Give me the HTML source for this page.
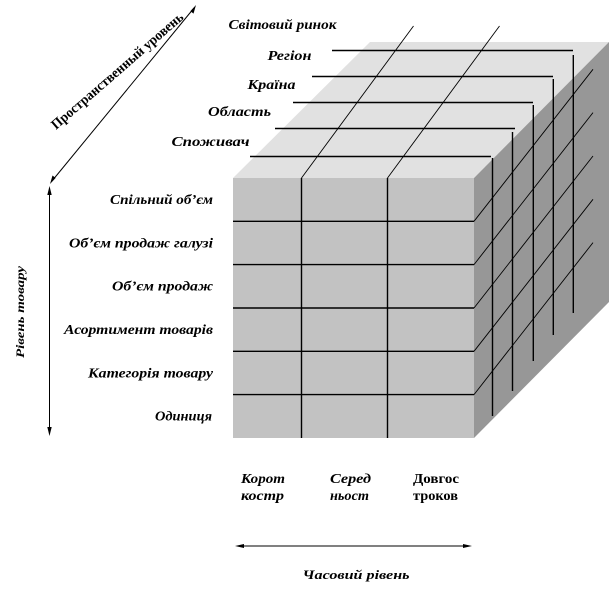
<!DOCTYPE html>
<html><head><meta charset="utf-8"><style>
html,body{margin:0;padding:0;background:#fff;}
svg{display:block;}
text{font-family:"Liberation Serif","DejaVu Serif",serif;font-weight:bold;fill:#000;}
.it{font-style:italic;}
</style></head><body>
<svg width="610" height="590" viewBox="0 0 610 590" xmlns="http://www.w3.org/2000/svg">
<!-- cube faces -->
<polygon points="233,178 370,42 609,42 474,178" fill="#e1e1e1"/>
<polygon points="474,178 609,42 609,302 474,438" fill="#979797"/>
<rect x="233" y="178" width="241" height="260" fill="#c2c2c2"/>

<g stroke="#000" stroke-width="1.4" fill="none">
<!-- front horizontal -->
<line x1="233" y1="221.3" x2="474" y2="221.3"/>
<line x1="233" y1="264.6" x2="474" y2="264.6"/>
<line x1="233" y1="308" x2="474" y2="308"/>
<line x1="233" y1="351.3" x2="474" y2="351.3"/>
<line x1="233" y1="394.6" x2="474" y2="394.6"/>
<!-- front verticals -->
<line x1="301.5" y1="178" x2="301.5" y2="438"/>
<line x1="387.5" y1="178" x2="387.5" y2="438"/>
<!-- top horizontals -->
<line x1="332" y1="50.5" x2="573" y2="50.5"/>
<line x1="312" y1="76.5" x2="553" y2="76.5"/>
<line x1="293" y1="102.5" x2="533" y2="102.5"/>
<line x1="275" y1="128.5" x2="515" y2="128.5"/>
<line x1="250" y1="156.5" x2="491" y2="156.5"/>
<!-- right verticals -->
<line x1="573.3" y1="55" x2="573.3" y2="313"/>
<line x1="553.3" y1="79" x2="553.3" y2="335"/>
<line x1="533.3" y1="105" x2="533.3" y2="361"/>
<line x1="512.5" y1="132" x2="512.5" y2="391"/>
<line x1="492.5" y1="158" x2="492.5" y2="416"/>
</g>
<g stroke="#000" stroke-width="0.9" fill="none">
<!-- top diagonals -->
<line x1="301.5" y1="178" x2="413.5" y2="26"/>
<line x1="387.5" y1="178" x2="499.5" y2="26"/>
<!-- right diagonals -->
<line x1="474" y1="221.3" x2="593" y2="69.3"/>
<line x1="474" y1="264.6" x2="593" y2="112.6"/>
<line x1="474" y1="308" x2="593" y2="156"/>
<line x1="474" y1="351.3" x2="593" y2="199.3"/>
<line x1="474" y1="394.6" x2="593" y2="242.6"/>
</g>

<!-- arrows -->
<g stroke="#000" stroke-width="1" fill="none">
<line x1="49.5" y1="190" x2="49.5" y2="432"/>
<line x1="240" y1="546" x2="467" y2="546"/>
<line x1="52" y1="181" x2="194" y2="8"/>
</g>
<g fill="#000">
<polygon points="49.5,186 47.3,195 51.7,195"/>
<polygon points="49.5,436 47.3,427 51.7,427"/>
<polygon points="235,546 244,544 244,548"/>
<polygon points="472,546 463,544 463,548"/>
<polygon points="50,184 52.5,175.5 55.6,178"/>
<polygon points="196,5 190.4,11.1 193.5,13.6"/>
</g>

<!-- top labels -->
<text class="it" x="228.5" y="29" font-size="14" textLength="108" lengthAdjust="spacingAndGlyphs">Світовий ринок</text>
<text class="it" x="267.5" y="60" font-size="14" textLength="44" lengthAdjust="spacingAndGlyphs">Регіон</text>
<text class="it" x="247.5" y="89" font-size="14" textLength="48" lengthAdjust="spacingAndGlyphs">Країна</text>
<text class="it" x="208" y="116" font-size="14" textLength="63" lengthAdjust="spacingAndGlyphs">Область</text>
<text class="it" x="171.5" y="146" font-size="14" textLength="78" lengthAdjust="spacingAndGlyphs">Споживач</text>

<!-- left labels -->
<text class="it" x="110" y="204" font-size="14" textLength="103" lengthAdjust="spacingAndGlyphs">Спільний об’єм</text>
<text class="it" x="69" y="247.3" font-size="14" textLength="144" lengthAdjust="spacingAndGlyphs">Об’єм продаж галузі</text>
<text class="it" x="112" y="290.6" font-size="14" textLength="101" lengthAdjust="spacingAndGlyphs">Об’єм продаж</text>
<text class="it" x="64" y="334" font-size="14" textLength="149" lengthAdjust="spacingAndGlyphs">Асортимент товарів</text>
<text class="it" x="88" y="377.3" font-size="14" textLength="125" lengthAdjust="spacingAndGlyphs">Категорія товару</text>
<text class="it" x="155" y="420.6" font-size="14" textLength="57" lengthAdjust="spacingAndGlyphs">Одиниця</text>

<!-- bottom labels -->
<text class="it" x="241" y="483" font-size="14" textLength="44" lengthAdjust="spacingAndGlyphs">Корот</text>
<text class="it" x="241" y="500" font-size="14" textLength="43" lengthAdjust="spacingAndGlyphs">костр</text>
<text class="it" x="330" y="483" font-size="14" textLength="41" lengthAdjust="spacingAndGlyphs">Серед</text>
<text class="it" x="330" y="500" font-size="14" textLength="39" lengthAdjust="spacingAndGlyphs">ньост</text>
<text x="413" y="483" font-size="14" textLength="46" lengthAdjust="spacingAndGlyphs">Довгос</text>
<text x="413" y="500" font-size="14" textLength="45" lengthAdjust="spacingAndGlyphs">троков</text>
<text class="it" x="302.5" y="579" font-size="13" textLength="107" lengthAdjust="spacingAndGlyphs">Часовий рівень</text>

<!-- rotated labels -->
<text class="it" x="0" y="0" font-size="12" textLength="92" lengthAdjust="spacingAndGlyphs" transform="translate(24,358) rotate(-90)">Рівень  товару</text>
<text x="0" y="0" font-size="14" textLength="170" lengthAdjust="spacingAndGlyphs" transform="translate(56,130) rotate(-41)">Пространственный уровень</text>
</svg>
</body></html>
